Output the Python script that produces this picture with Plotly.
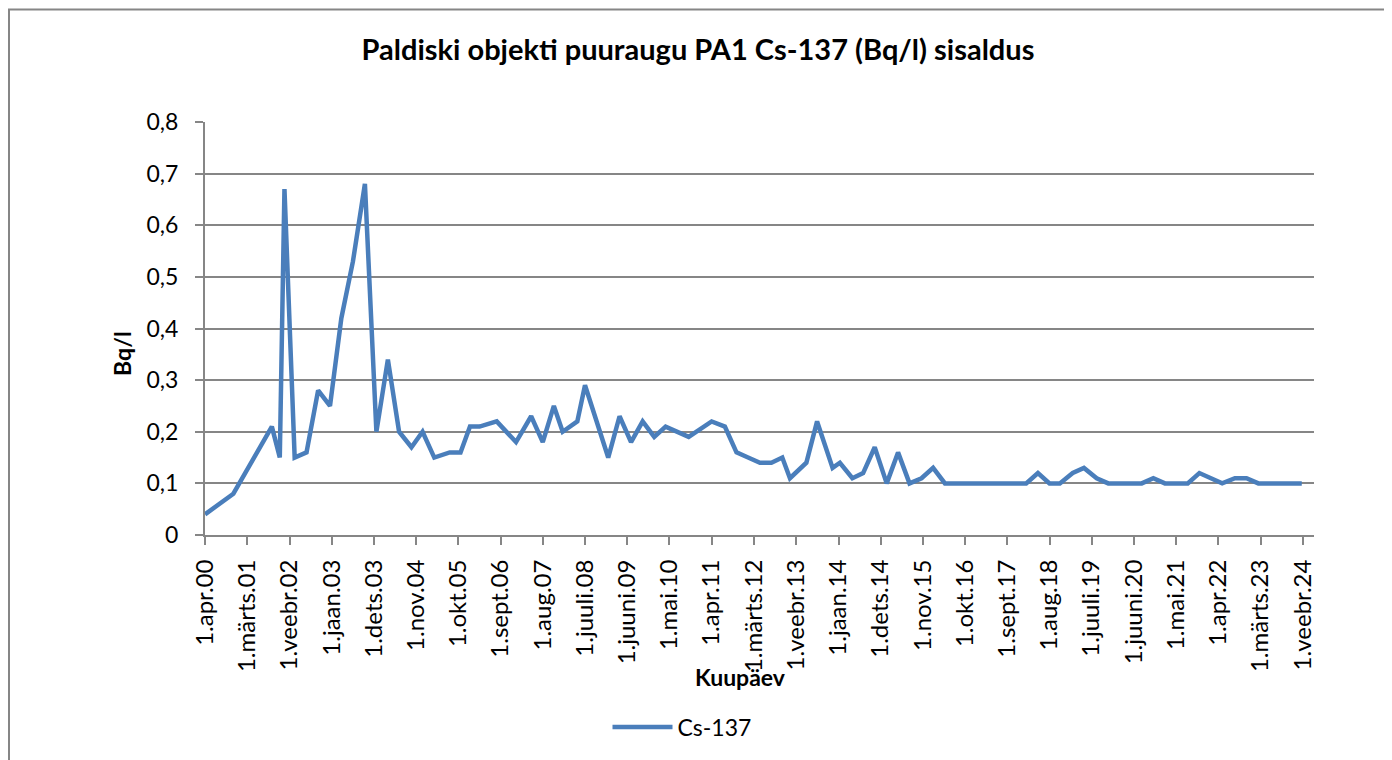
import plotly.graph_objs as go

# measurement dates and Cs-137 values (Bq/l)
dates = [
    '2000-04-01', '2000-11-12', '2001-09-13', '2001-11-15', '2001-12-22',
    '2002-03-13', '2002-06-15', '2002-09-15', '2002-12-18', '2003-03-18',
    '2003-06-18', '2003-09-21', '2003-12-21', '2004-03-21', '2004-06-18',
    '2004-09-24', '2004-12-21', '2005-03-24', '2005-07-24', '2005-10-18',
    '2006-01-01', '2006-03-18', '2006-08-01', '2007-01-01', '2007-05-01',
    '2007-08-01', '2007-10-28', '2008-01-06', '2008-05-01', '2008-07-01',
    '2009-01-01', '2009-04-01', '2009-07-01', '2009-10-01', '2010-01-01',
    '2010-04-01', '2010-10-01', '2011-04-01', '2011-07-15', '2011-10-15',
    '2012-01-15', '2012-04-18', '2012-07-18', '2012-10-12', '2012-12-12',
    '2013-04-21', '2013-07-15', '2013-11-15', '2014-01-12', '2014-04-21',
    '2014-07-15', '2014-10-15', '2015-01-18', '2015-04-18', '2015-07-18',
    '2015-10-21', '2016-01-21', '2016-04-24', '2016-07-20', '2016-10-20',
    '2017-01-20', '2017-04-20', '2017-07-20', '2017-10-20', '2018-01-28',
    '2018-05-01', '2018-08-01', '2018-10-22', '2019-02-01', '2019-05-01',
    '2019-08-10', '2019-11-10', '2020-02-01', '2020-05-01', '2020-08-01',
    '2020-11-01', '2021-02-01', '2021-05-01', '2021-08-01', '2021-11-01',
    '2022-05-01', '2022-08-10', '2022-11-10', '2023-02-12', '2023-05-01',
    '2023-08-01', '2023-11-01', '2024-01-22',
]
cs137 = [
    0.04, 0.08, 0.21, 0.15, 0.67,
    0.15, 0.16, 0.28, 0.25, 0.42,
    0.53, 0.68, 0.20, 0.34, 0.20,
    0.17, 0.20, 0.15, 0.16, 0.16,
    0.21, 0.21, 0.22, 0.18, 0.23,
    0.18, 0.25, 0.20, 0.22, 0.29,
    0.15, 0.23, 0.18, 0.22, 0.19,
    0.21, 0.19, 0.22, 0.21, 0.16,
    0.15, 0.14, 0.14, 0.15, 0.11,
    0.14, 0.22, 0.13, 0.14, 0.11,
    0.12, 0.17, 0.10, 0.16, 0.10,
    0.11, 0.13, 0.10, 0.10, 0.10,
    0.10, 0.10, 0.10, 0.10, 0.10,
    0.12, 0.10, 0.10, 0.12, 0.13,
    0.11, 0.10, 0.10, 0.10, 0.10,
    0.11, 0.10, 0.10, 0.10, 0.12,
    0.10, 0.11, 0.11, 0.10, 0.10,
    0.10, 0.10, 0.10,
]

# x-axis ticks (every 11 months, as in the Excel chart)
tick_dates = [
    '2000-04-01', '2001-03-01', '2002-02-01', '2003-01-01', '2003-12-01',
    '2004-11-01', '2005-10-01', '2006-09-01', '2007-08-01', '2008-07-01',
    '2009-06-01', '2010-05-01', '2011-04-01', '2012-03-01', '2013-02-01',
    '2014-01-01', '2014-12-01', '2015-11-01', '2016-10-01', '2017-09-01',
    '2018-08-01', '2019-07-01', '2020-06-01', '2021-05-01', '2022-04-01',
    '2023-03-01', '2024-02-01',
]
tick_labels = [
    '1.apr.00', '1.märts.01', '1.veebr.02', '1.jaan.03', '1.dets.03',
    '1.nov.04', '1.okt.05', '1.sept.06', '1.aug.07', '1.juuli.08',
    '1.juuni.09', '1.mai.10', '1.apr.11', '1.märts.12', '1.veebr.13',
    '1.jaan.14', '1.dets.14', '1.nov.15', '1.okt.16', '1.sept.17',
    '1.aug.18', '1.juuli.19', '1.juuni.20', '1.mai.21', '1.apr.22',
    '1.märts.23', '1.veebr.24',
]
y_ticks = [0, 0.1, 0.2, 0.3, 0.4, 0.5, 0.6, 0.7, 0.8]
y_labels = ['0', '0,1', '0,2', '0,3', '0,4', '0,5', '0,6', '0,7', '0,8']

FONT = 'Lato'
GRAY = '#868686'

# page has an 8px body margin, so the figure is 8px smaller than the window
W, H = 1384, 752
PLOT_L, PLOT_R, PLOT_T, PLOT_B = 205, 1314, 122, 537  # page pixels
PW = PLOT_R - PLOT_L
PH = PLOT_B - PLOT_T


def px(x):
    return (x - PLOT_L) / PW


def py(y):
    return (PLOT_B - y) / PH


trace = go.Scatter(
    x=dates,
    y=cs137,
    mode='lines',
    name='Cs-137',
    line=dict(color='#4a7ebb', width=4.5),
)

fig = go.Figure(data=[trace])

fig.update_layout(
    width=W,
    height=H,
    paper_bgcolor='white',
    plot_bgcolor='white',
    font=dict(family=FONT, size=23, color='black'),
    margin=dict(l=PLOT_L - 8, r=8 + W - PLOT_R, t=PLOT_T - 8, b=8 + H - PLOT_B),
    title=dict(
        text='<b>Paldiski objekti puuraugu PA1 Cs-137 (Bq/l) sisaldus</b>',
        x=(698 - 8) / W, xref='container', xanchor='center',
        y=1 - (50 - 8) / H, yref='container', yanchor='middle',
        font=dict(family=FONT, size=29),
    ),
    showlegend=True,
    legend=dict(
        orientation='h',
        x=px(682), xanchor='center',
        y=py(730), yanchor='middle',
        font=dict(family=FONT, size=23),
        itemwidth=60,
    ),
)

fig.update_xaxes(
    type='date',
    range=['2000-04-01', '2024-04-28'],
    tickmode='array',
    tickvals=tick_dates,
    ticktext=tick_labels,
    tickangle=-90,
    ticks='outside',
    ticklen=8,
    tickwidth=2,
    tickcolor=GRAY,
    ticklabelstandoff=5,
    showline=True,
    linecolor=GRAY,
    linewidth=2,
    showgrid=False,
    zeroline=False,
    tickfont=dict(family=FONT, size=24),
)

fig.update_yaxes(
    range=[0, 0.8],
    tickmode='array',
    tickvals=y_ticks,
    ticktext=y_labels,
    ticks='outside',
    ticklen=8,
    tickwidth=2,
    tickcolor=GRAY,
    ticklabelstandoff=12,
    showline=True,
    linecolor=GRAY,
    linewidth=2,
    showgrid=True,
    gridcolor=GRAY,
    gridwidth=2,
    zeroline=False,
    tickfont=dict(family=FONT, size=23),
)

# axis titles placed like in the original chart
fig.add_annotation(
    text='<b>Bq/l</b>', xref='paper', yref='paper',
    x=px(122), y=py(355), xanchor='center', yanchor='middle',
    showarrow=False, textangle=-90,
    font=dict(family=FONT, size=23),
)
fig.add_annotation(
    text='<b>Kuupäev</b>', xref='paper', yref='paper',
    x=px(740), y=py(680), xanchor='center', yanchor='middle',
    showarrow=False,
    font=dict(family=FONT, size=23),
)

# chart border
fig.add_shape(
    type='rect', xref='paper', yref='paper',
    x0=px(9), x1=px(1387),
    y0=py(775), y1=py(9),
    line=dict(color=GRAY, width=2),
)

fig.write_html("out.html")
